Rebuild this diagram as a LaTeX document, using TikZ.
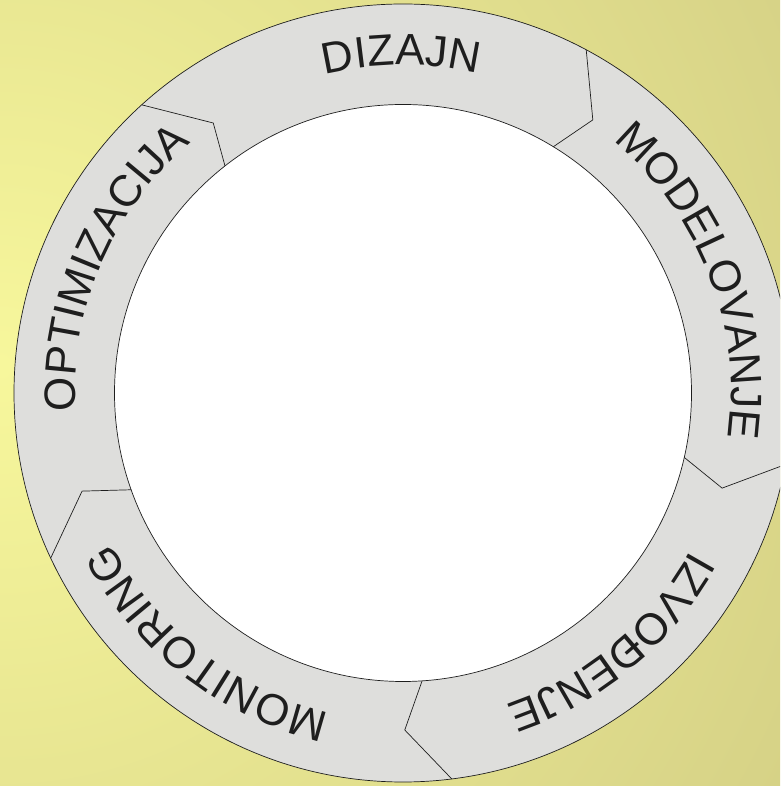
\documentclass[tikz,border=0pt]{standalone}
\usepackage{fontspec}
\newfontfamily\labfont{Liberation Sans}
\usetikzlibrary{decorations.text}
\definecolor{bgin}{HTML}{F7F79C}
\definecolor{bgout}{HTML}{D0CB82}
\definecolor{ringgray}{HTML}{DEDEDC}
\definecolor{inkc}{HTML}{1E1E1E}
\tikzset{
  ringline/.style={draw=inkc, line width=0.7pt},
  sepline/.style={draw=inkc, line width=0.7pt, line join=miter},
  arclabel/.style={decorate, decoration={text along path, text align=center,
      text color=inkc, text={|\labfont\fontsize{44}{50}\selectfont|#1}}}
}
\begin{document}
\begin{tikzpicture}[x=1pt,y=1pt]
\useasboundingbox (0,0) rectangle (780,786);
\clip (0,0) rectangle (780,786);
% background
\shade[inner color=bgin, outer color=bgout] (0,420) circle (1050);
\coordinate (C) at (403,393);
% ring
\draw[ringline, fill=ringgray] (C) circle (389);
\draw[ringline, fill=white] (C) circle (288.5);
% separators (chevrons)
\foreach \n/\ao/\av/\rv/\ai in {1/132.2/125.1/330/128.1,
                               2/61.9/55.2/332.6/58.6,
                               3/-10.6/-16.6/333/-12.9,
                               4/-82.8/-89.7/337/-86.2,
                               5/205.1/197/335.6/199.6}{
  \path (C) ++(\ao:389) coordinate (o\n)
        (C) ++(\av:\rv) coordinate (v\n)
        (C) ++(\ai:288.5) coordinate (i\n);
  \draw[sepline] (o\n) -- (v\n) -- (i\n);
}
% labels along the ring (clockwise, tops outward)
\path (C) ++(130.3:328) coordinate (s1);
\path[arclabel=DIZAJN] (s1) arc[start angle=130.3, end angle=50.3, radius=328];
\path (C) ++(61.2:328) coordinate (s2);
\path[arclabel=MODELOVANJE] (s2) arc[start angle=61.2, end angle=-18.8, radius=328];
\path (C) ++(-10.2:328) coordinate (s3);
\path[arclabel=IZVOĐENJE] (s3) arc[start angle=-10.2, end angle=-90.2, radius=328];
\path (C) ++(-87.9:328) coordinate (s4);
\path[arclabel=MONITORING] (s4) arc[start angle=-87.9, end angle=-167.9, radius=328];
\path (C) ++(196.7:328) coordinate (s5);
\path[arclabel=OPTIMIZACIJA] (s5) arc[start angle=196.7, end angle=116.7, radius=328];
\end{tikzpicture}
\end{document}
